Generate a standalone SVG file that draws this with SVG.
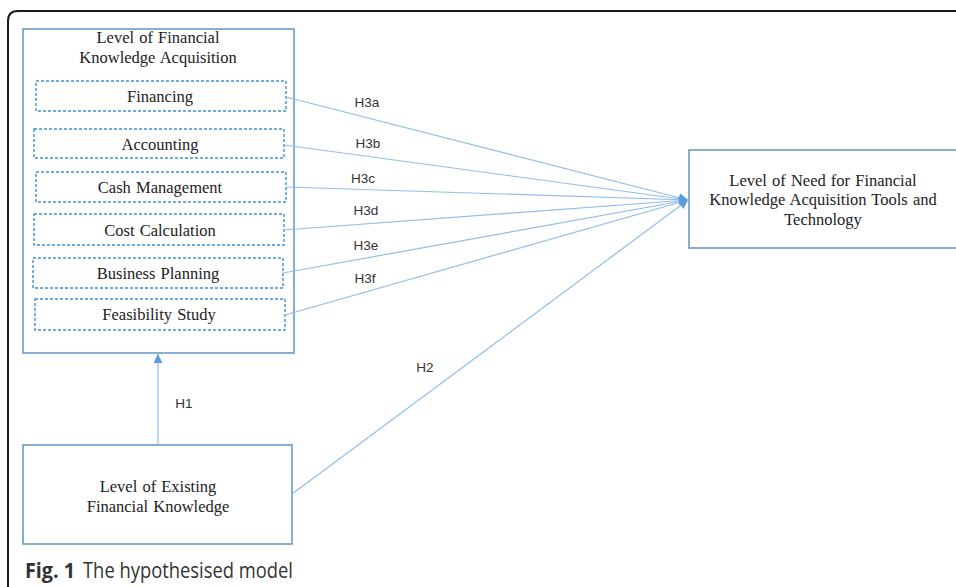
<svg xmlns="http://www.w3.org/2000/svg" width="956" height="587" viewBox="0 0 956 587">
<style>
.frame{fill:none;stroke:#1a1a1a;stroke-width:2}
.box{fill:#fff;stroke:#6b98c8;stroke-width:1.6}
.dash{fill:#fff;stroke:#3d8fdb;stroke-width:1.4;stroke-dasharray:3 2}
.st{font-family:"Liberation Serif","Times New Roman",serif;font-size:16.5px;fill:#222;text-anchor:middle;word-spacing:1px}
.lbl{font-family:"Liberation Sans",Arial,sans-serif;font-size:13.5px;fill:#333;text-anchor:middle}
.con{fill:none;stroke:#93bde9;stroke-width:1.2}
.cap{font-family:"Open Sans","Noto Sans",sans-serif;font-size:22px;fill:#333}
</style>
<defs>
<marker id="arr" viewBox="0 0 10 10" refX="10" refY="5" markerWidth="9" markerHeight="9" markerUnits="userSpaceOnUse" orient="auto">
<path d="M0,0 L10,5 L0,10 z" fill="#5b9be0"/>
</marker>
</defs>
<rect width="956" height="587" fill="#fff"/>
<path class="frame" d="M8,590 L8,21 Q8,11 18,11 L960,11"/>

<g id="acquisition">
<rect class="box" x="23" y="29" width="271" height="324"/>
<text class="st" x="158" y="43">Level of Financial</text>
<text class="st" x="158" y="63">Knowledge Acquisition</text>
</g>
<g id="financing"><rect class="dash" x="36" y="81" width="250" height="30"/><text class="st" x="160" y="102">Financing</text></g>
<g id="accounting"><rect class="dash" x="34" y="129" width="250" height="29"/><text class="st" x="160" y="150">Accounting</text></g>
<g id="cash"><rect class="dash" x="36" y="172" width="250" height="30"/><text class="st" x="160" y="193">Cash Management</text></g>
<g id="cost"><rect class="dash" x="34" y="214" width="250" height="31"/><text class="st" x="160" y="236">Cost Calculation</text></g>
<g id="planning"><rect class="dash" x="33" y="258" width="250" height="30"/><text class="st" x="158" y="279">Business Planning</text></g>
<g id="feasibility"><rect class="dash" x="35" y="299" width="250" height="31"/><text class="st" x="159" y="320">Feasibility Study</text></g>

<g id="need">
<rect class="box" x="689" y="150" width="280" height="98"/>
<text class="st" x="823" y="186">Level of Need for Financial</text>
<text class="st" x="823" y="205">Knowledge Acquisition Tools and</text>
<text class="st" x="823" y="225">Technology</text>
</g>

<g id="existing">
<rect class="box" x="23" y="445" width="269" height="99"/>
<text class="st" x="158" y="492">Level of Existing</text>
<text class="st" x="158" y="512">Financial Knowledge</text>
</g>

<g id="connectors">
<line class="con" x1="286" y1="97" x2="688" y2="200" marker-end="url(#arr)"/>
<line class="con" x1="284" y1="145" x2="688" y2="200" marker-end="url(#arr)"/>
<line class="con" x1="286" y1="187" x2="688" y2="200" marker-end="url(#arr)"/>
<line class="con" x1="284" y1="230" x2="688" y2="200" marker-end="url(#arr)"/>
<line class="con" x1="283" y1="273" x2="688" y2="200" marker-end="url(#arr)"/>
<line class="con" x1="285" y1="315" x2="688" y2="200" marker-end="url(#arr)"/>
<line class="con" x1="292" y1="494" x2="688" y2="200" marker-end="url(#arr)"/>
<line class="con" x1="158" y1="445" x2="158" y2="354" marker-end="url(#arr)"/>
<text class="lbl" x="367" y="107">H3a</text>
<text class="lbl" x="368" y="148">H3b</text>
<text class="lbl" x="363" y="183">H3c</text>
<text class="lbl" x="366" y="215">H3d</text>
<text class="lbl" x="366" y="250">H3e</text>
<text class="lbl" x="365" y="283">H3f</text>
<text class="lbl" x="425" y="372">H2</text>
<text class="lbl" x="184" y="408">H1</text>
</g>

<text class="cap" x="25" y="578" font-weight="bold" textLength="50" lengthAdjust="spacingAndGlyphs">Fig. 1</text>
<text class="cap" x="83" y="578" textLength="210" lengthAdjust="spacingAndGlyphs">The hypothesised model</text>
</svg>
